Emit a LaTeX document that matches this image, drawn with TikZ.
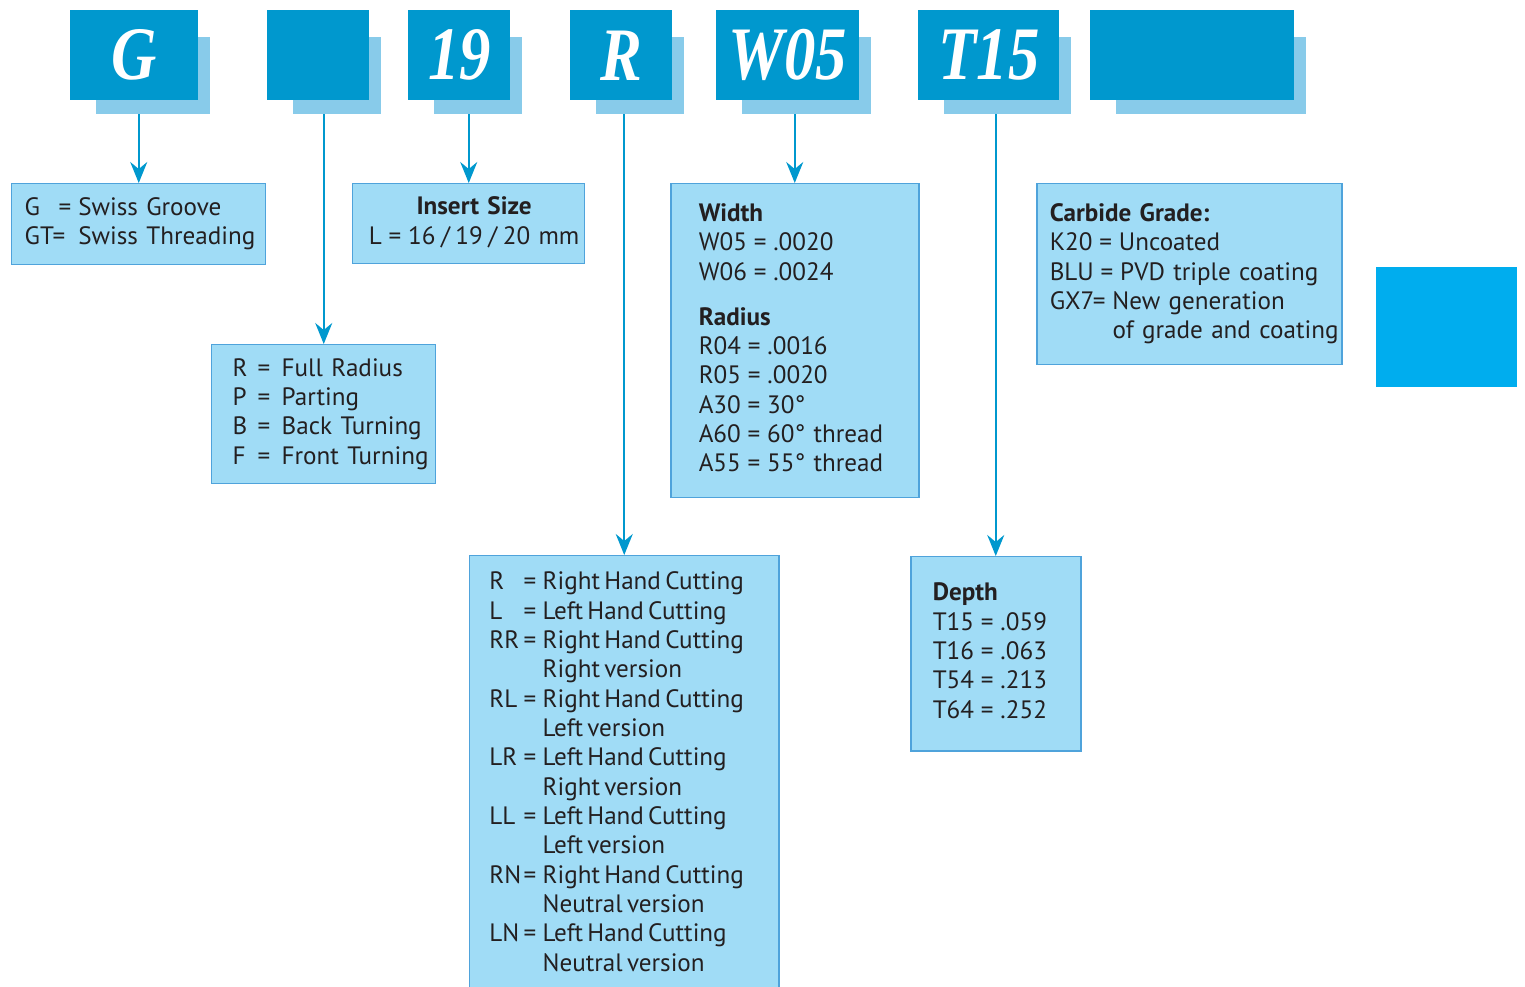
\documentclass[tikz,border=0pt]{standalone}
\usepackage{fontspec}
\setmainfont{PT Sans}
\newfontfamily\headfont{Liberation Serif}
\usetikzlibrary{arrows.meta}

\definecolor{headblue}{HTML}{0098CE}
\definecolor{shadeblue}{HTML}{88CBEA}
\definecolor{infoblue}{HTML}{A0DCF6}
\definecolor{lineblue}{HTML}{4FA3DB}
\definecolor{tabblue}{HTML}{00ADEE}
\definecolor{inkgray}{HTML}{231F20}

\newcommand{\pxu}{0.02cm}
\newcommand{\hd}[1]{\scalebox{0.83}[1]{#1}}
\newcommand{\eq}{\kern-0.06em=\kern-0.06em}
\newcommand{\slsep}{\hspace{0.22em}/\hspace{0.22em}}
\newcommand{\infofont}{\fontsize{14.3}{16.7}\selectfont\spaceskip=0.17em plus 0.05em minus 0.03em\relax}

\pgfdeclarelayer{bg}
\pgfsetlayers{bg,main}

\tikzset{
	headbox/.style = {fill = headblue, text = white, inner sep = 0pt, anchor = north west,
		minimum height = 90*\pxu, font = \headfont\bfseries\itshape\fontsize{43}{43}\selectfont},
	infobox/.style = {fill = infoblue, draw = lineblue, line width = 0.85pt, anchor = north west,
		text = inkgray, align = left, font = \infofont},
	link/.style = {draw = headblue, line width = 1.1pt, -{Stealth[length = 0.42cm, width = 0.34cm, inset = 0.14cm]}}
}

\begin{document}
\begin{tikzpicture}[x = 0.02cm, y = -0.02cm]
	\path[use as bounding box] (0, 0) rectangle (1525, 987);
	\clip (0, 0) rectangle (1525, 987);
	\begin{pgfonlayer}{bg}
		\fill[white] (0, 0) rectangle (1525, 987);
	\end{pgfonlayer}

	% code letters
	\node[headbox, minimum width = 128*\pxu] (cG) at (70, 10) {\hd{G}};
	\node[headbox, minimum width = 102*\pxu] (cB) at (267, 10) {};
	\node[headbox, minimum width = 102*\pxu] (cL) at (408, 10) {\hd{19}};
	\node[headbox, minimum width = 102*\pxu] (cR) at (570, 10) {\hd{R}};
	\node[headbox, minimum width = 143*\pxu] (cW) at (716, 10) {\hd{W05}};
	\node[headbox, minimum width = 141*\pxu] (cT) at (918, 10) {\hd{T15}};
	\node[headbox, minimum width = 204*\pxu] (cX) at (1090, 10) {};

	% explanations
	\node[infobox, minimum width = 254*\pxu, minimum height = 81*\pxu, text width = 228*\pxu, inner xsep = 13*\pxu] (grv) at (11, 183)
		{\begin{tabular}{@{}l@{\ }l@{}}G\hspace{0.8em}\eq & Swiss Groove\\ GT\eq & Swiss Threading\end{tabular}};
	\node[infobox, align = center, minimum width = 232*\pxu, minimum height = 80*\pxu, text width = 200*\pxu, inner xsep = 16*\pxu] (sizebox) at (352, 183)
		{\begin{tabular}{@{}c@{}}\textbf{Insert Size}\\ L \eq{} 16\slsep 19\slsep 20 mm\end{tabular}};
	\node[infobox, minimum width = 224*\pxu, minimum height = 139*\pxu, text width = 182*\pxu, inner xsep = 21*\pxu] (radbox) at (211, 344)
		{\begin{tabular}{@{}l@{\hspace{0.4em}}l@{\hspace{0.45em}}l@{}}R & = & Full Radius\\ P & = & Parting\\ B & = & Back Turning\\ F & = & Front Turning\end{tabular}};
	\node[infobox, minimum width = 248*\pxu, minimum height = 314*\pxu, text width = 192*\pxu, inner xsep = 28*\pxu] (widbox) at (670, 183)
		{\begin{tabular}{@{}l@{}}\textbf{Width}\\ W05 \eq{} .0020\\ W06 \eq{} .0024\\[9pt] \textbf{Radius}\\ R04 \eq{} .0016\\ R05 \eq{} .0020\\ A30 \eq{} 30°\\ A60 \eq{} 60° thread\\ A55 \eq{} 55° thread\end{tabular}};
	\node[infobox, minimum width = 305*\pxu, minimum height = 181*\pxu, text width = 279*\pxu, inner xsep = 13*\pxu] (gradebox) at (1036, 183)
		{\begin{tabular}{@{}l@{}}\textbf{Carbide Grade:}\\ K20 \eq{} Uncoated\\ BLU \eq{} PVD triple coating\\ GX7\eq{} New generation\\ \hspace*{2.5em}of grade and coating\end{tabular}};
	\node[infobox, minimum width = 170*\pxu, minimum height = 194*\pxu, text width = 126*\pxu, inner xsep = 22*\pxu] (depthbox) at (910, 556)
		{\begin{tabular}{@{}l@{}}\textbf{Depth}\\ T15 \eq{} .059\\ T16 \eq{} .063\\ T54 \eq{} .213\\ T64 \eq{} .252\end{tabular}};
	\node[infobox, minimum width = 309*\pxu, minimum height = 440*\pxu, inner sep = 0pt] (handbox) at (469, 555) {};
	\node[anchor = north west, inner sep = 0pt, text = inkgray, font = \infofont] (handtxt) at ([shift = {(20, 14)}]handbox.north west)
		{\begin{tabular}{@{}l@{\hspace{0.1em}}l@{\hspace{0.25em}}l@{}}
			R & = & Right Hand Cutting\\
			L & = & Left Hand Cutting\\
			RR & = & Right Hand Cutting\\ & & Right version\\
			RL & = & Right Hand Cutting\\ & & Left version\\
			LR & = & Left Hand Cutting\\ & & Right version\\
			LL & = & Left Hand Cutting\\ & & Left version\\
			RN & = & Right Hand Cutting\\ & & Neutral version\\
			LN & = & Left Hand Cutting\\ & & Neutral version
		\end{tabular}};

	\fill[tabblue] (1376, 267) rectangle (1517, 387);

	\begin{pgfonlayer}{bg}
		\draw[link] (cG.south -| grv.north) -- (grv.north);
		\draw[link] (cB.south -| radbox.north) -- (radbox.north);
		\draw[link] (cL.south -| sizebox.north) -- (sizebox.north);
		\draw[link] (cR.south -| handbox.north) -- (handbox.north);
		\draw[link] (cW.south -| widbox.north) -- (widbox.north);
		\draw[link] (cT.south -| depthbox.north) -- (depthbox.north);
		\foreach \h in {cG, cB, cL, cR, cW, cT, cX}
			\fill[shadeblue] ([shift = {(26, 27)}]\h.north west) rectangle ([shift = {(11, 13)}]\h.south east);
	\end{pgfonlayer}
\end{tikzpicture}
\end{document}
